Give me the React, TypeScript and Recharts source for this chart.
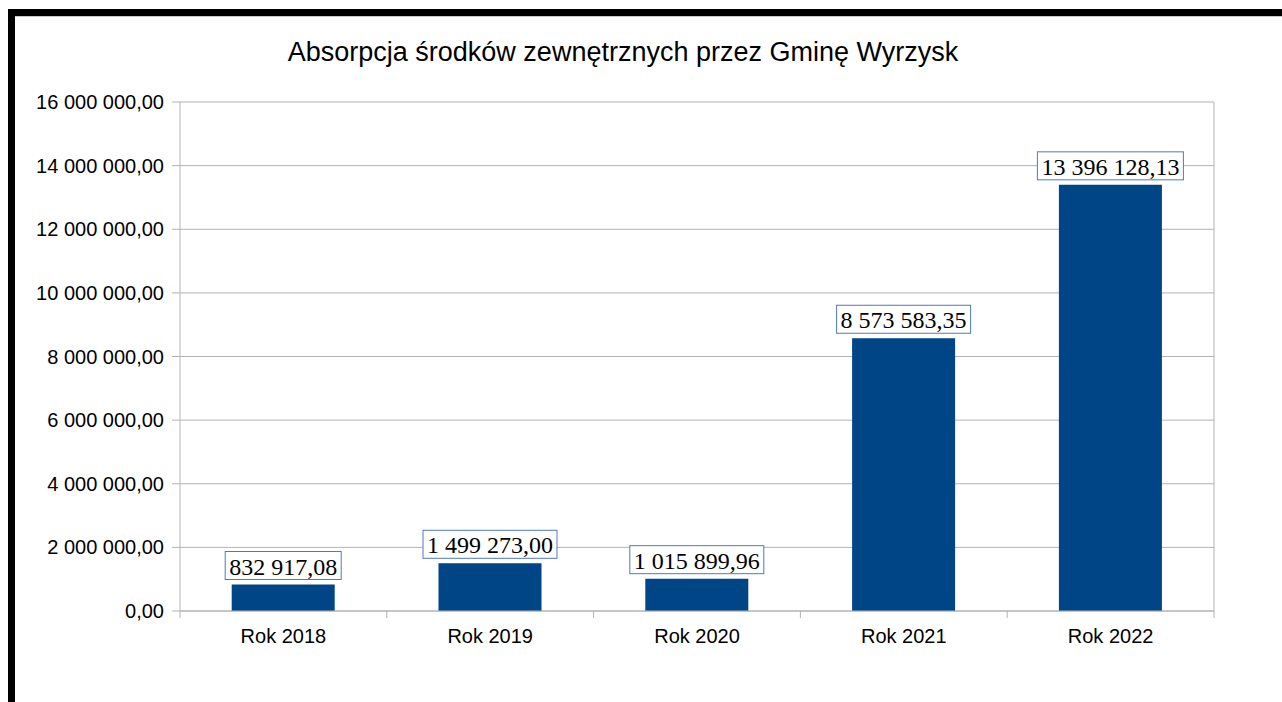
import { Bar, BarChart, CartesianGrid, LabelList, XAxis, YAxis } from "recharts";

// Absorption of external funds by the Wyrzysk commune, 2018–2022
// (a LibreOffice-style column chart pasted into a document page).

const YEARS = ["Rok 2018", "Rok 2019", "Rok 2020", "Rok 2021", "Rok 2022"];
const AMOUNTS = [832917.08, 1499273.0, 1015899.96, 8573583.35, 13396128.13];
const Y_TICKS = [0, 2000000, 4000000, 6000000, 8000000, 10000000, 12000000, 14000000, 16000000];

const TITLE = "Absorpcja środków zewnętrznych przez Gminę Wyrzysk";

const W = 1282;
const H = 702;
const PLOT_LEFT = 180;
const PLOT_RIGHT = 1214;
const PLOT_TOP = 102;
const PLOT_BOTTOM = 611;
const X_AXIS_H = 40;
const BAND = (PLOT_RIGHT - PLOT_LEFT) / YEARS.length;

const GRID = "#b3b3b3";
const BAR = "#004586";
const BOX = "#4f79bd";
const SANS = "'Liberation Sans', Arial, sans-serif";
const SERIF = "'Liberation Serif', 'Times New Roman', serif";

// 16000000 -> "16 000 000,00"
function plNumber(v: number): string {
  const [int, dec] = v.toFixed(2).split(".");
  return `${int.replace(/\B(?=(\d{3})+(?!\d))/g, " ")},${dec}`;
}

// Times metrics: digits 0.5em, space and comma 0.25em
function serifWidth(s: string, fs: number): number {
  let w = 0;
  for (const ch of s) w += /\d/.test(ch) ? 0.5 : 0.25;
  return w * fs;
}

function XTick(props: any) {
  const { x, y, payload, index } = props;
  const last = index === YEARS.length - 1;
  return (
    <g>
      <line x1={x - BAND / 2} x2={x - BAND / 2} y1={y} y2={y + 7} stroke={GRID} />
      {last && <line x1={x + BAND / 2} x2={x + BAND / 2} y1={y} y2={y + 7} stroke={GRID} />}
      <text x={x} y={y + 32} textAnchor="middle" fontFamily={SANS} fontSize={20} fill="#000">
        {payload.value}
      </text>
    </g>
  );
}

function ValueLabel(props: any) {
  const { x, y, width, value } = props;
  const fs = 24;
  const txt = plNumber(value);
  const bw = serifWidth(txt, fs) + 8;
  const cx = x + width / 2;
  return (
    <g>
      <rect x={cx - bw / 2} y={y - 33} width={bw} height={28} fill="#fff" stroke={BOX} strokeWidth={1} />
      <text x={cx} y={y - 10} textAnchor="middle" fontFamily={SERIF} fontSize={fs} fill="#000">
        {txt}
      </text>
    </g>
  );
}

export default function App() {
  const rows = YEARS.map((year, i) => ({ year, amount: AMOUNTS[i] }));
  return (
    <div style={{ position: "fixed", left: 0, top: 0, width: W, height: H, background: "#fff", overflow: "hidden" }}>
      <div style={{ position: "absolute", left: 8, top: 9, width: W - 8, height: 7, background: "#000" }} />
      <div style={{ position: "absolute", left: 8, top: 9, width: 7, height: H - 9, background: "#000" }} />
      <div style={{ position: "absolute", left: 15, top: 16, width: W - 15, height: 1, background: "#c8c8c8" }} />
      <div
        style={{
          position: "absolute",
          left: 0,
          width: 1246,
          top: 39,
          textAlign: "center",
          fontFamily: SANS,
          fontSize: 27,
          lineHeight: "27px",
          color: "#000",
          whiteSpace: "nowrap",
        }}
      >
        {TITLE}
      </div>
      <div style={{ position: "absolute", left: 0, top: 0 }}>
        <BarChart
          width={W}
          height={H}
          data={rows}
          barCategoryGap="25%"
          margin={{ top: PLOT_TOP, right: W - PLOT_RIGHT - 1, bottom: H - PLOT_BOTTOM - X_AXIS_H, left: 0 }}
        >
          <CartesianGrid vertical={false} stroke={GRID} yAxisId="l" />
          <XAxis
            dataKey="year"
            height={X_AXIS_H}
            axisLine={{ stroke: GRID }}
            tickLine={false}
            tickSize={0}
            tickMargin={0}
            tick={<XTick />}
            interval={0}
          />
          <YAxis
            yAxisId="l"
            width={PLOT_LEFT}
            domain={[0, 16000000]}
            ticks={Y_TICKS}
            interval={0}
            tickFormatter={plNumber}
            axisLine={{ stroke: GRID }}
            tickLine={{ stroke: GRID }}
            tickSize={8}
            tickMargin={8}
            tick={{ fontFamily: SANS, fontSize: 20, fill: "#000" }}
          />
          <YAxis
            yAxisId="r"
            orientation="right"
            width={1}
            domain={[0, 16000000]}
            tick={false}
            tickLine={false}
            axisLine={{ stroke: GRID }}
          />
          <Bar yAxisId="l" dataKey="amount" fill={BAR} isAnimationActive={false}>
            <LabelList dataKey="amount" content={<ValueLabel />} />
          </Bar>
        </BarChart>
      </div>
    </div>
  );
}
